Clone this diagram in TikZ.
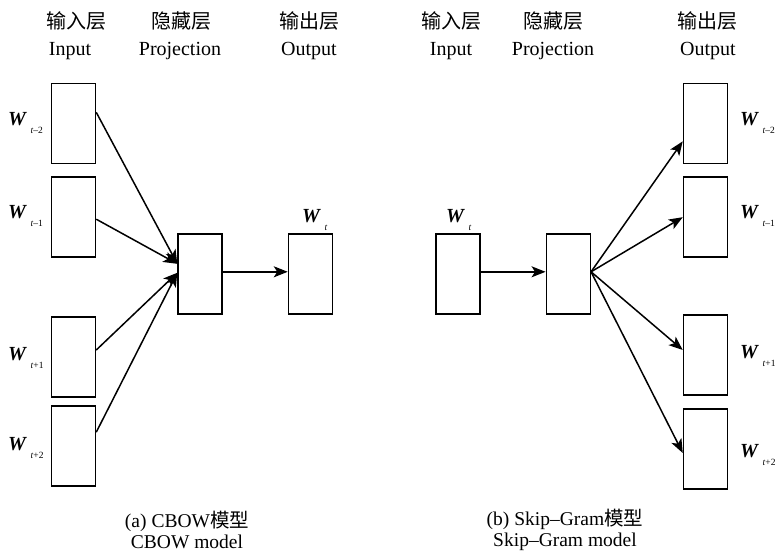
\documentclass[tikz,border=0pt]{standalone}
\usepackage{fontspec}
\setmainfont{Liberation Serif}
\newfontfamily\cjk{Noto Sans CJK SC}
\usetikzlibrary{arrows.meta}
\newcommand{\wlab}[1]{\textbf{\textit{W}}\kern3.5pt\raisebox{-8pt}{\fontsize{9.5}{9.5}\selectfont\textit{t}#1}}
\tikzset{
  vbox/.style={draw, line width=1.5pt, minimum width=44pt, minimum height=80pt, inner sep=0pt},
  conn/.style={line width=1.5pt, -{Stealth[length=14pt,width=11pt,inset=3.5pt]}},
  hdr/.style={inner sep=0pt, font=\fontsize{20}{24}\selectfont},
  wl/.style={inner sep=0pt, anchor=base west, font=\fontsize{20}{24}\selectfont},
  captxt/.style={inner sep=0pt, align=center, font=\fontsize{19.5}{21}\selectfont}
}
\begin{document}
\begin{tikzpicture}[x=1pt,y=-1pt]
\useasboundingbox (0,0) rectangle (776,552);
% headers left
\node[hdr] (h1c) at (76,21) {\cjk 输入层};
\node[hdr] (h1e) at (70,51) {Input};
\node[hdr] (h2c) at (181,21) {\cjk 隐藏层};
\node[hdr] (h2e) at (180,51) {Projection};
\node[hdr] (h3c) at (309,21) {\cjk 输出层};
\node[hdr] (h3e) at (309,51) {Output};
% headers right
\node[hdr] (h4c) at (451,21) {\cjk 输入层};
\node[hdr] (h4e) at (451,51) {Input};
\node[hdr] (h5c) at (553,21) {\cjk 隐藏层};
\node[hdr] (h5e) at (553,51) {Projection};
\node[hdr] (h6c) at (707,21) {\cjk 输出层};
\node[hdr] (h6e) at (708,51) {Output};
% CBOW boxes
\node[vbox] (lin1) at (73.5,123.3) {};
\node[vbox] (lin2) at (73.5,217.2) {};
\node[vbox] (lin3) at (73.5,357) {};
\node[vbox] (lin4) at (73.5,446.2) {};
\node[vbox] (lhid) at (200,273.8) {};
\node[vbox] (lout) at (310.5,273.8) {};
% Skip-gram boxes
\node[vbox] (rin) at (458,273.8) {};
\node[vbox] (rhid) at (568.3,273.8) {};
\node[vbox] (rout1) at (705.5,123.3) {};
\node[vbox] (rout2) at (705.5,217.2) {};
\node[vbox] (rout3) at (705.5,355) {};
\node[vbox] (rout4) at (705.5,449) {};
% labels
\node[wl] (lw1) at (8,125) {\wlab{–2}};
\node[wl] (lw2) at (8,218) {\wlab{–1}};
\node[wl] (lw3) at (8,360) {\wlab{+1}};
\node[wl] (lw4) at (8,450) {\wlab{+2}};
\node[wl] (lwt) at (302,222) {\wlab{}};
\node[wl] (rwt) at (446,222) {\wlab{}};
\node[wl] (rw1) at (740,125) {\wlab{–2}};
\node[wl] (rw2) at (740,218) {\wlab{–1}};
\node[wl] (rw3) at (740,358) {\wlab{+1}};
\node[wl] (rw4) at (740,457) {\wlab{+2}};
% CBOW arrows
\draw[conn] ([yshift=11pt]lin1.east) -- ([yshift=10pt]lhid.west);
\draw[conn] ([yshift=-2pt]lin2.east) -- ([yshift=10pt]lhid.west);
\draw[conn] ([yshift=7pt]lin3.east) -- ([yshift=1pt]lhid.west);
\draw[conn] ([yshift=14pt]lin4.east) -- ([yshift=1pt]lhid.west);
\draw[conn] ([yshift=2pt]lhid.east) -- ([yshift=2pt]lout.west);
% Skip-gram arrows
\draw[conn] ([yshift=2pt]rin.east) -- ([yshift=2pt]rhid.west);
\draw[conn] ([yshift=2pt]rhid.east) -- ([yshift=-18pt]rout1.west);
\draw[conn] ([yshift=2pt]rhid.east) -- (rout2.west);
\draw[conn] ([yshift=2pt]rhid.east) -- ([yshift=5pt]rout3.west);
\draw[conn] ([yshift=2pt]rhid.east) -- ([yshift=-4pt]rout4.west);
% captions
\node[captxt] (capa) at (187,530) {(a) CBOW{\cjk 模型}\\CBOW model};
\node[captxt] (capb) at (565,530) {(b) Skip–Gram{\cjk 模型}\\Skip–Gram model};
\end{tikzpicture}
\end{document}
